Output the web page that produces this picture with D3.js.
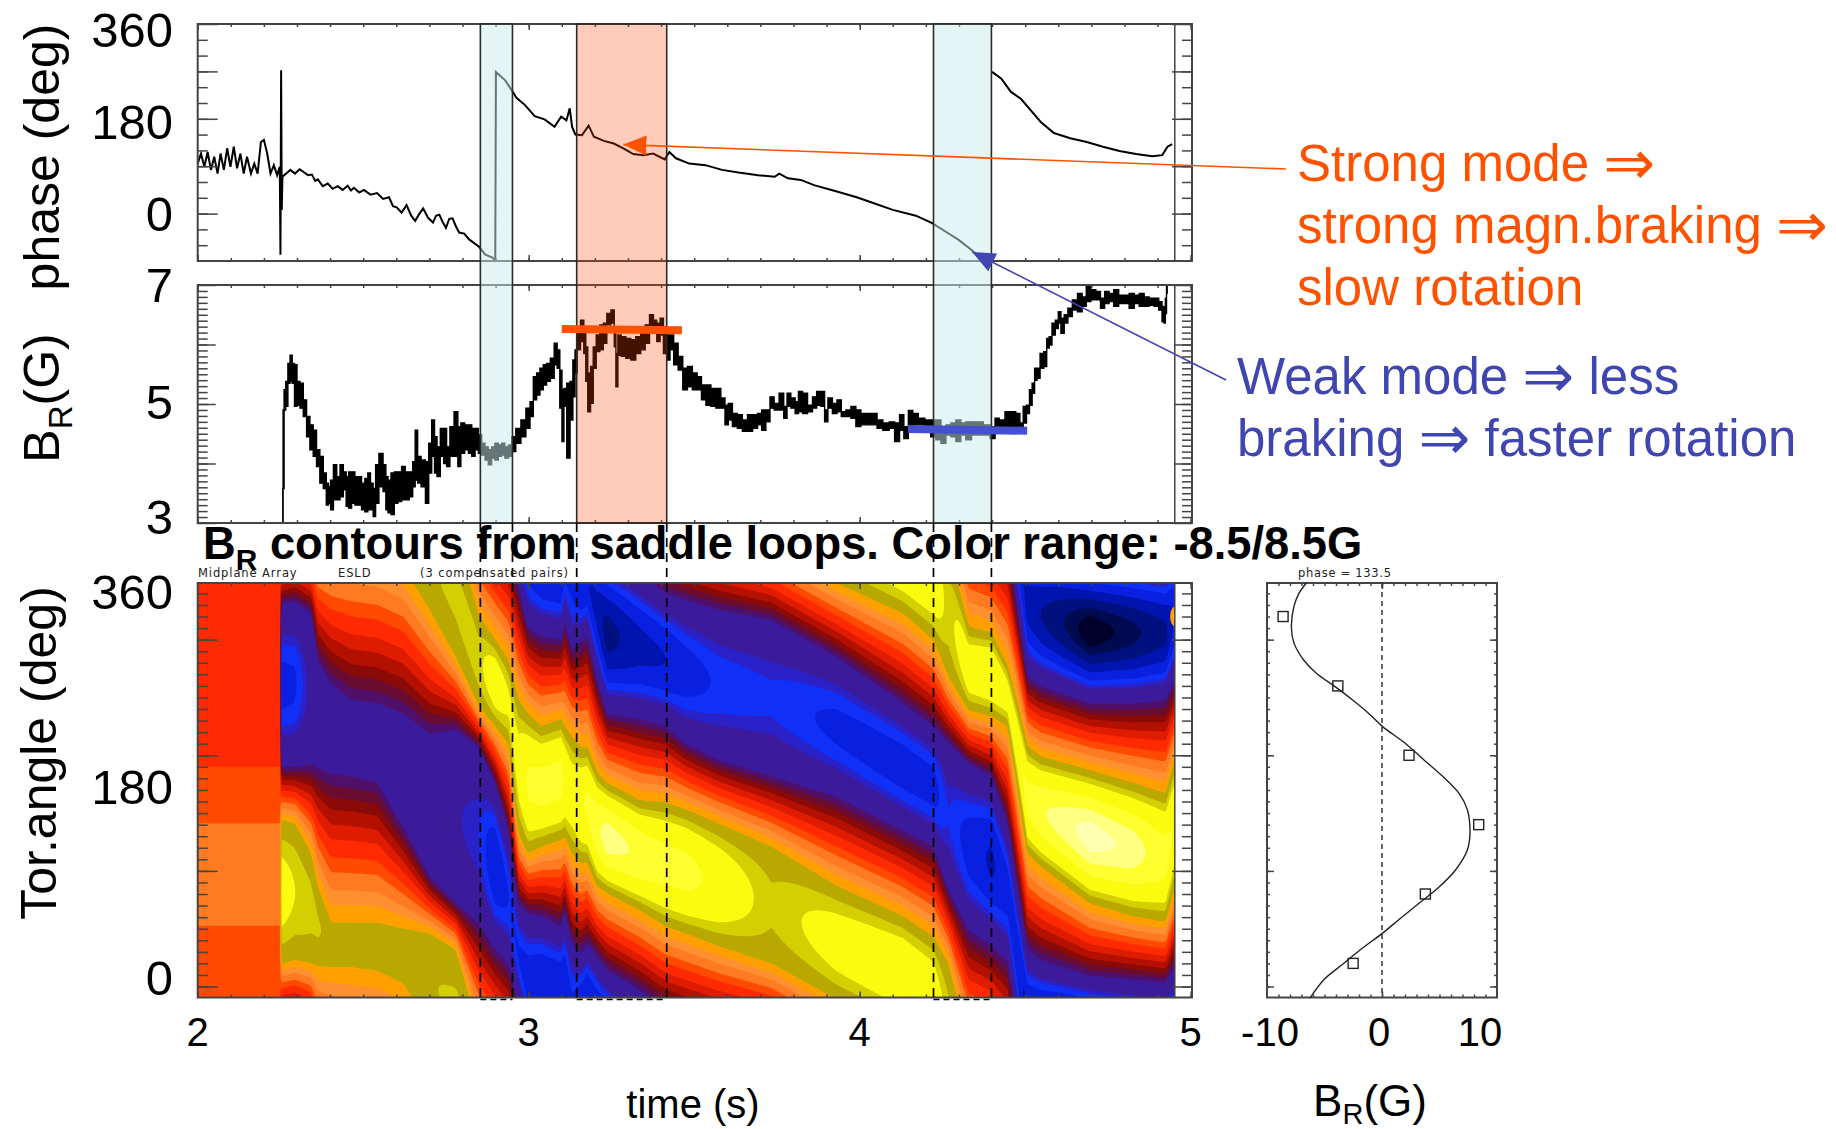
<!DOCTYPE html>
<html>
<head>
<meta charset="utf-8">
<title>BR contours from saddle loops</title>
<script src="https://cdn.jsdelivr.net/npm/d3@7"></script>
<style>
  html, body { margin: 0; padding: 0; background: #ffffff; }
  svg { display: block; }
  text { font-family: "Liberation Sans", "DejaVu Sans", sans-serif; }
</style>
</head>
<body>
<svg id="chart" width="1836" height="1129"></svg>
<script>
// phase of the mode (deg), null = wrap-around gap in the trace
var phaseTime = [2.000,2.010,2.020,2.030,2.040,2.050,2.060,2.069,2.079,2.089,2.099,2.109,2.119,2.129,2.139,2.149,2.161,2.171,2.181,2.191,2.200,2.210,2.220,2.230,2.240,2.248,2.250,2.252,2.254,2.256,2.280,2.294,2.308,2.320,2.333,2.345,2.355,2.363,2.378,2.393,2.408,2.423,2.438,2.453,2.463,2.472,2.488,2.502,2.522,2.542,2.560,2.578,2.590,2.601,2.616,2.631,2.645,2.657,2.668,2.681,2.696,2.711,2.720,2.730,2.740,2.750,2.760,2.770,2.780,2.790,2.805,2.820,2.850,2.869,2.889,2.899,2.901,2.929,2.949,2.963,2.989,3.018,3.048,3.078,3.098,3.114,3.124,3.131,3.141,3.161,3.181,3.197,3.227,3.257,3.286,3.316,3.346,3.376,3.411,3.425,3.445,3.485,3.534,3.584,3.634,3.693,3.743,3.757,3.783,3.822,3.862,3.931,3.991,4.041,4.100,4.170,4.219,4.259,4.299,4.338,4.372,4.385,4.400,4.428,4.457,4.487,4.517,4.547,4.587,4.636,4.686,4.735,4.785,4.835,4.884,4.914,4.930,4.944];
var phaseDeg = [95,114,89,117,83,108,76,114,83,124,89,127,86,114,76,108,76,95,76,136,140,114,76,92,73,89,-78,272,7,70,83,76,84,79,73,74,62,65,52,57,47,52,45,53,44,49,40,45,36,39,28,31,14,12,2,16,-4,-14,-2,10,-8,-17,-4,-2,-16,-27,-10,-9,-24,-36,-38,-49,-63,-78,-83,-88,269,253,234,220,206,185,179,165,184,177,200,165,150,149,167,146,138,133,124,113,111,114,103,117,105,95,92,83,78,73,70,76,67,64,54,42,31,20,7,-4,-18,-34,-50,-69,-88,null,269,256,231,218,196,174,153,143,136,127,119,113,109,111,127,132];

// BR amplitude (G), upper and lower edge of the noisy trace
var brTime = [2.257,2.259,2.263,2.269,2.276,2.282,2.289,2.296,2.304,2.314,2.324,2.334,2.344,2.354,2.364,2.374,2.385,2.392,2.398,2.405,2.415,2.425,2.435,2.445,2.452,2.460,2.470,2.480,2.490,2.500,2.510,2.518,2.526,2.534,2.541,2.554,2.566,2.571,2.579,2.589,2.599,2.611,2.621,2.633,2.646,2.653,2.661,2.668,2.682,2.694,2.702,2.712,2.719,2.727,2.739,2.747,2.757,2.767,2.782,2.790,2.800,2.813,2.823,2.833,2.843,2.853,2.863,2.873,2.883,2.893,2.903,2.913,2.923,2.933,2.945,2.953,2.969,2.984,2.999,3.009,3.019,3.029,3.039,3.049,3.059,3.072,3.082,3.090,3.098,3.103,3.110,3.120,3.130,3.137,3.143,3.150,3.163,3.170,3.175,3.182,3.192,3.198,3.210,3.220,3.231,3.241,3.256,3.261,3.266,3.273,3.286,3.301,3.316,3.331,3.346,3.358,3.372,3.382,3.392,3.402,3.412,3.422,3.432,3.444,3.459,3.472,3.487,3.502,3.516,3.528,3.543,3.558,3.573,3.588,3.598,3.608,3.623,3.638,3.653,3.669,3.684,3.699,3.709,3.724,3.734,3.749,3.764,3.777,3.784,3.800,3.810,3.820,3.835,3.850,3.865,3.875,3.890,3.898,3.910,3.925,3.938,3.951,3.966,3.981,3.996,4.011,4.026,4.046,4.059,4.081,4.097,4.114,4.127,4.140,4.154,4.167,4.187,4.207,4.222,4.238,4.253,4.268,4.283,4.298,4.313,4.328,4.348,4.363,4.384,4.404,4.414,4.429,4.449,4.464,4.479,4.489,4.499,4.509,4.517,4.525,4.532,4.540,4.550,4.562,4.568,4.577,4.585,4.597,4.603,4.613,4.623,4.635,4.650,4.666,4.678,4.691,4.706,4.721,4.734,4.746,4.761,4.774,4.791,4.806,4.822,4.837,4.852,4.867,4.882,4.897,4.910,4.917,4.922,4.925,4.929];
var brHigh = [3.58,4.90,5.24,5.38,5.68,5.82,5.68,5.66,5.38,5.35,5.07,4.79,4.65,4.56,4.23,4.12,3.84,3.67,3.61,3.72,3.98,3.78,3.98,3.86,3.78,3.86,3.86,3.78,3.78,3.67,3.75,3.84,3.67,3.58,3.98,4.17,3.98,3.78,3.72,3.84,3.86,3.86,3.95,3.86,3.86,4.03,4.56,4.12,4.06,4.03,4.34,4.73,4.45,4.28,4.59,4.59,4.28,4.62,4.87,4.62,4.68,4.65,4.65,4.59,4.59,4.48,4.34,4.28,4.23,4.28,4.34,4.31,4.34,4.28,4.31,4.45,4.59,4.73,4.93,5.04,5.46,5.52,5.60,5.66,5.68,5.77,6.02,5.91,5.57,5.24,5.26,5.35,5.38,5.74,5.91,6.30,6.41,6.24,5.96,5.52,5.63,5.96,6.16,6.33,6.36,6.52,6.58,6.30,5.85,6.16,6.13,6.10,6.08,6.13,6.19,6.33,6.50,6.41,6.36,6.44,6.30,6.16,6.16,6.02,5.80,5.60,5.63,5.52,5.46,5.32,5.32,5.26,5.26,5.10,4.98,5.01,4.84,4.82,4.73,4.82,4.82,4.84,4.90,4.90,5.12,5.01,5.18,4.96,5.18,5.10,5.04,5.21,5.18,4.98,5.12,5.21,5.21,4.90,5.10,5.01,5.07,4.87,4.90,4.96,4.90,4.84,4.84,4.84,4.73,4.68,4.70,4.68,4.82,4.62,4.89,4.84,4.76,4.73,4.73,4.73,4.62,4.65,4.68,4.73,4.68,4.70,4.70,4.70,4.65,4.62,4.76,4.73,4.87,4.87,4.84,4.68,4.96,4.98,5.24,5.35,5.60,5.60,5.85,5.88,6.10,6.13,6.36,6.41,6.55,6.44,6.50,6.61,6.75,6.86,6.80,6.98,6.92,6.89,6.78,6.89,6.86,6.92,6.83,6.83,6.86,6.83,6.86,6.80,6.78,6.78,6.72,6.64,6.61,6.78,7.00];
var brLow = [3.01,3.58,4.90,4.96,5.35,5.38,5.35,4.96,4.98,4.93,4.79,4.45,4.23,4.12,3.95,3.67,3.58,3.30,3.33,3.22,3.39,3.39,3.44,3.56,3.28,3.25,3.33,3.30,3.30,3.22,3.19,3.22,3.22,3.11,3.33,3.61,3.53,3.22,3.17,3.14,3.33,3.36,3.39,3.39,3.44,3.61,3.72,3.67,3.61,3.33,3.84,4.12,3.84,3.78,4.12,4.00,3.95,4.12,4.12,3.95,4.17,4.23,4.17,4.12,4.23,4.17,4.14,4.06,3.98,4.09,4.06,4.12,4.14,4.09,4.12,4.20,4.34,4.45,4.59,4.79,5.07,5.15,5.24,5.32,5.38,5.43,5.66,5.60,4.93,4.37,4.96,4.09,4.73,5.12,5.52,5.91,6.05,5.85,5.38,4.87,5.01,5.60,5.88,5.91,6.02,6.33,6.36,5.96,5.29,5.82,5.80,5.77,5.74,5.85,5.91,6.02,6.19,6.19,6.05,6.16,5.85,5.74,5.91,5.66,5.57,5.24,5.29,5.24,5.24,5.07,4.98,4.96,4.93,4.93,4.65,4.73,4.62,4.59,4.54,4.54,4.59,4.65,4.56,4.70,4.93,4.90,4.90,4.76,4.96,4.93,4.84,4.87,4.84,4.87,4.93,4.98,4.96,4.70,4.93,4.84,4.87,4.79,4.79,4.76,4.62,4.65,4.65,4.65,4.59,4.56,4.59,4.37,4.56,4.42,4.56,4.65,4.65,4.62,4.45,4.40,4.34,4.48,4.45,4.37,4.48,4.40,4.48,4.48,4.48,4.42,4.56,4.62,4.59,4.62,4.62,4.59,4.68,4.84,4.98,5.18,5.40,5.43,5.60,5.63,5.94,5.99,6.16,6.27,6.36,6.19,6.36,6.47,6.58,6.55,6.64,6.72,6.75,6.75,6.61,6.69,6.72,6.64,6.69,6.69,6.61,6.69,6.64,6.64,6.66,6.64,6.58,6.38,6.36,6.52,6.86];

// contour map, read per time column: where the purple and the olive band start and stop (unwrapped deg),
// and how deep / high the field goes in the middle of each band
var heatTime = [2.256,2.294,2.343,2.363,2.403,2.463,2.542,2.621,2.701,2.780,2.850,2.899,2.939,2.969,2.998,3.038,3.098,3.108,3.131,3.157,3.177,3.207,3.237,3.336,3.415,3.475,3.574,3.733,3.931,4.130,4.223,4.268,4.329,4.398,4.447,4.477,4.507,4.547,4.696,4.825,4.924,4.952];
var purpleTop = [331,333,323,282,262,248,245,236,219,222,207,176,135,72,63,61,52,66,37,29,37,26,14,-3,-20,-26,-34,-43,-75,-115,-135,-149,-167,-178,-219,-274,-328,-337,-351,-354,-357,-343];
var purpleBottom = [190,190,192,189,184,182,177,138,95,72,55,32,20,-14,-49,-57,-60,-43,-69,-62,-57,-95,-124,-129,-135,-150,-164,-178,-196,-225,-239,-276,-311,-325,-337,-395,-452,-460,-475,-475,-472,-455];
var oliveTop = [144,141,115,86,55,55,55,50,46,32,-40,-60,-78,-112,-124,-135,-129,-135,-144,-153,-153,-175,-184,-199,-201,-207,-219,-239,-273,-299,-317,-340,-409,-414,-443,-476,-512,-521,-533,-544,-553,-524];
var oliveBottom = [20,23,20,18,17,17,14,3,-34,-75,-118,-135,-150,-227,-245,-239,-233,-230,-245,-253,-253,-273,-279,-294,-308,-314,-325,-340,-371,-397,-420,-452,-481,-486,-495,-548,-605,-616,-648,-659,-664,-633];
var troughValue = [-6.8,-6.6,-4.5,-4.2,-4,-4,-4.4,-4.6,-4.8,-4.8,-5.6,-7.6,-6.4,-6.5,-7,-7.5,-7.5,-7,-6.5,-7.2,-7.5,-8,-9,-8,-7.6,-7,-6.2,-5.8,-6.7,-7,-6.9,-5.6,-7,-7.8,-7,-7.2,-8,-8.6,-10.3,-9.6,-8.8,-7.4];
var peakValue = [5.6,5.0,4.5,4.3,3.9,3.9,3.9,3.9,4.1,4.4,4.7,6.0,5.2,5.6,6.8,7,7,6.4,5.8,6.4,6.8,7.4,8,7.4,7,7,6.2,4.4,5.7,6.2,6,4.6,6,6.4,5.8,6.2,7,7.5,8.5,8,7,6.4];

// before the mode appears (t < 2.25) the map is nearly flat
var earlyAngle = [349,250,200,150,115,60,30,0,-10];
var earlyValue = [0.4,0.4,0.7,1.2,1.6,1.4,1.0,0.9,0.9];

var contourLevels = [-99,-9.9,-9.4,-8.6,-7.6,-6.4,-5.6,-5.0,-2,-1.6,-1.2,-0.8,-0.3,0.2,0.8,1.3,1.9,2.4,3,4.2,5.0,6.6,7.6,8.2];
var contourColors = ['#00002a','#000a50','#00107e','#0014b0','#0a20e0','#1030f8','#2a22c8','#3b1a9c','#50106a','#6a0c30','#8a0a08','#b41000','#e01c00','#ff2a00','#ff4a00','#ff7a20','#ff9030','#ffa000','#b8a800','#d4cf00','#fbfb10','#ffff30','#ffff80','#ffffb0'];

// the small hot spot at the right edge of the map
var hotSpotTime = [4.947];
var hotSpotAngle = [320];

// profile at phase = 133.5
var sensorAngle = [320,260,200,140,80,20];
var sensorValue = [-8.6,-3.84,2.35,8.41,3.77,-2.51];
var fitAngle = [349,340,329,311,297,282,271,260,248,236,225,210,196,182,167,153,133,118,101,86,72,58,46,32,19,6,-10];
var fitValue = [-6.58,-7.22,-7.65,-7.88,-7.65,-6.78,-5.71,-4.17,-2.58,-1.13,0.03,2.06,3.65,5.25,6.70,7.42,7.65,7.42,6.41,4.96,3.22,1.48,0.03,-1.86,-3.45,-5.04,-6.26];

// highlighted time windows and the two level bars
var weakWindows = [[2.854,2.951],[4.223,4.398]];
var strongWindows = [[3.145,3.417]];
var strongBarTime = [3.10,3.463];
var strongBarLevel = [6.26,6.24];
var weakBarTime = [4.146,4.506];
var weakBarLevel = [4.58,4.55];

var svg = d3.select('#chart');
var ORANGE = '#ff5200';
var BLUE = '#4046b0';
var FRAME = '#444444';

var x = d3.scaleLinear().domain([2, 5.004]).range([197.7, 1192]);
var yPhase = d3.scaleLinear().domain([-90, 360]).range([261, 24]);
var yBr = d3.scaleLinear().domain([3, 7]).range([523, 285]);
var yAngle = d3.scaleLinear().domain([-9.5, 349]).range([997.5, 583]);
var xProfile = d3.scaleLinear().domain([-10, 10]).range([1267, 1497]);

function range(start, stop, step) {
  return d3.range(Math.round((stop - start) / step) + 1).map(function(i) {
    return +(start + i * step).toFixed(3);
  });
}

function drawAxis(generator, scale, transform, values, size) {
  svg.append('g')
    .attr('transform', transform)
    .call(generator(scale).tickValues(values).tickSize(size).tickFormat(''))
    .call(function(g) {
      g.select('.domain').remove();
      g.selectAll('line').attr('stroke', FRAME).attr('stroke-width', 1.5);
    });
}

function drawFrame(xs, ys, xMinor, xMajor, yMinor, yMajor, xSizes, ySizes) {
  var left = xs.range()[0];
  var right = xs.range()[1];
  var top = ys.range()[1];
  var bottom = ys.range()[0];

  // inward ticks: axisRight on the left edge, axisLeft on the right edge and so on
  drawAxis(d3.axisRight, ys, 'translate(' + left + ',0)', yMinor, ySizes[0]);
  drawAxis(d3.axisRight, ys, 'translate(' + left + ',0)', yMajor, ySizes[1]);
  drawAxis(d3.axisLeft, ys, 'translate(' + right + ',0)', yMinor, ySizes[0]);
  drawAxis(d3.axisLeft, ys, 'translate(' + right + ',0)', yMajor, ySizes[1]);
  drawAxis(d3.axisTop, xs, 'translate(0,' + bottom + ')', xMinor, xSizes[0]);
  drawAxis(d3.axisTop, xs, 'translate(0,' + bottom + ')', xMajor, xSizes[1]);
  drawAxis(d3.axisBottom, xs, 'translate(0,' + top + ')', xMinor, xSizes[0]);
  drawAxis(d3.axisBottom, xs, 'translate(0,' + top + ')', xMajor, xSizes[1]);

  svg.append('rect')
    .attr('x', left)
    .attr('y', top)
    .attr('width', right - left)
    .attr('height', bottom - top)
    .style('fill', 'none')
    .style('stroke', FRAME)
    .style('stroke-width', 2);
}

var defs = svg.append('defs');

function clip(id, x0, y0, x1, y1) {
  defs.append('clipPath')
    .attr('id', id)
    .append('rect')
    .attr('x', x0)
    .attr('y', y0)
    .attr('width', x1 - x0)
    .attr('height', y1 - y0);
}

clip('clip-phase', x(2), yPhase(360), x(5.004), yPhase(-90));
clip('clip-br', x(2), yBr(7), x(5.004), yBr(3));
clip('clip-heat', x(2), yAngle(349), x(4.952), yAngle(-9.5));

function marker(id, color, w, h) {
  defs.append('marker')
    .attr('id', id)
    .attr('markerUnits', 'userSpaceOnUse')
    .attr('markerWidth', w)
    .attr('markerHeight', h)
    .attr('refX', w)
    .attr('refY', h / 2)
    .attr('orient', 'auto')
    .append('path')
    .attr('d', 'M0,0L' + w + ',' + (h / 2) + 'L0,' + h + 'Z')
    .style('fill', color);
}

marker('head-orange', ORANGE, 23, 20);
marker('head-blue', BLUE, 23, 20);

// contour map
var nx = 490;
var ny = 210;
var gridTime = d3.scaleLinear().domain([0, nx]).range([1.99, 4.965]);
var gridAngle = d3.scaleLinear().domain([0, ny]).range([352, -12]);

function column(values) {
  return d3.scaleLinear().domain(heatTime).range(values).clamp(true);
}

var purpleT = column(purpleTop);
var purpleB = column(purpleBottom);
var oliveT = column(oliveTop);
var oliveB = column(oliveBottom);
var troughV = column(troughValue);
var peakV = column(peakValue);
var earlyV = d3.scaleLinear().domain(earlyAngle).range(earlyValue).clamp(true);
var PURPLE_EDGE = -2;
var OLIVE_EDGE = 3;

function fieldValue(t, angle) {
  if (t < 2.25) {
    return earlyV(angle);
  }
  var a = purpleT(t);
  var b = purpleB(t);
  var c = oliveT(t);
  var d = oliveB(t);
  var p = angle;
  while (p > a) p -= 360;
  while (p <= a - 360) p += 360;
  var s;
  if (p >= b) {
    s = (2 * p - a - b) / (a - b);
    return PURPLE_EDGE + (troughV(t) - PURPLE_EDGE) * (1 - s * s);
  }
  if (p >= c) {
    return PURPLE_EDGE + (OLIVE_EDGE - PURPLE_EDGE) * (b - p) / (b - c);
  }
  if (p >= d) {
    s = (2 * p - c - d) / (c - d);
    return OLIVE_EDGE + (peakV(t) - OLIVE_EDGE) * (1 - s * s);
  }
  return OLIVE_EDGE - (OLIVE_EDGE - PURPLE_EDGE) * (d - p) / (d - a + 360);
}

var grid = new Float64Array(nx * ny);
for (var j = 0; j < ny; j++) {
  for (var i = 0; i < nx; i++) {
    grid[i + j * nx] = fieldValue(gridTime(i + .5), gridAngle(j + .5));
  }
}

var gridPath = d3.geoPath(d3.geoTransform({
  point: function(px, py) {
    this.stream.point(x(gridTime(px)), yAngle(gridAngle(py)));
  }
}));

var heat = svg.append('g').attr('clip-path', 'url(#clip-heat)');

heat.append('rect')
  .attr('x', x(2))
  .attr('y', yAngle(349))
  .attr('width', x(4.952) - x(2))
  .attr('height', yAngle(-9.5) - yAngle(349))
  .style('fill', contourColors[0]);

heat.selectAll('.band')
  .data(d3.contours().size([nx, ny]).smooth(true).thresholds(contourLevels)(grid))
  .enter()
  .append('path')
  .attr('class', 'band')
  .attr('d', gridPath)
  .style('fill', function(d, i) {
    return contourColors[i];
  });

hotSpotTime.forEach(function(t, i) {
  heat.append('ellipse')
    .attr('cx', x(t) + 2)
    .attr('cy', yAngle(hotSpotAngle[i]))
    .attr('rx', 5)
    .attr('ry', 10)
    .style('fill', '#ffa000');
  heat.append('ellipse')
    .attr('cx', x(t) + 3)
    .attr('cy', yAngle(hotSpotAngle[i]))
    .attr('rx', 2.5)
    .attr('ry', 6)
    .style('fill', '#ffff60');
});

// traces
svg.append('path')
  .datum(phaseTime.map(function(t, i) {
    return [t, phaseDeg[i]];
  }))
  .attr('clip-path', 'url(#clip-phase)')
  .attr('d', d3.line()
    .defined(function(d) {
      return d[1] !== null;
    })
    .x(function(d) {
      return x(d[0]);
    })
    .y(function(d) {
      return yPhase(d[1]);
    }))
  .style('fill', 'none')
  .style('stroke', '#000000')
  .style('stroke-width', 2);

svg.append('path')
  .datum(brTime.map(function(t, i) {
    return [t, brHigh[i], brLow[i]];
  }))
  .attr('clip-path', 'url(#clip-br)')
  .attr('d', d3.area()
    .curve(d3.curveStep)
    .x(function(d) {
      return x(d[0]);
    })
    .y0(function(d) {
      return yBr(d[2]);
    })
    .y1(function(d) {
      return yBr(d[1]);
    }))
  .style('fill', '#000000')
  .style('stroke', '#000000')
  .style('stroke-width', 1.4);

[yPhase, yBr, yAngle].forEach(function(ys) {
  svg.append('line')
    .attr('x1', x(4.952))
    .attr('x2', x(4.952))
    .attr('y1', ys.range()[0])
    .attr('y2', ys.range()[1])
    .style('stroke', FRAME)
    .style('stroke-width', 1.5);
});

drawFrame(x, yPhase, range(2, 5, .1), range(2, 5, 1), range(-60, 330, 30), range(0, 360, 90), [3, 6], [10, 20]);
drawFrame(x, yBr, range(2, 5, .1), range(2, 5, 1), range(3.1, 6.9, .1), range(3, 7, 1), [3, 6], [10, 18]);
drawFrame(x, yAngle, range(2, 5, .1), range(2, 5, 1), range(0, 340, 10), range(0, 300, 100), [3, 6], [10, 20]);

// highlighted windows
function drawWindows(windows, fill, opacity) {
  svg.selectAll(null)
    .data(windows)
    .enter()
    .append('rect')
    .attr('x', function(d) {
      return x(d[0]);
    })
    .attr('y', yPhase(360))
    .attr('width', function(d) {
      return x(d[1]) - x(d[0]);
    })
    .attr('height', yBr(3) - yPhase(360))
    .style('fill', fill)
    .style('fill-opacity', opacity)
    .style('stroke', '#2a2a2a')
    .style('stroke-width', 1.6);

  windows.forEach(function(w) {
    w.forEach(function(t) {
      svg.append('line')
        .attr('x1', x(t))
        .attr('x2', x(t))
        .attr('y1', yBr(3))
        .attr('y2', yAngle(-9.5) + 2)
        .style('stroke', '#000000')
        .style('stroke-width', 1.7)
        .style('stroke-dasharray', '9,6');
    });
    svg.append('line')
      .attr('x1', x(w[0]))
      .attr('x2', x(w[1]))
      .attr('y1', yAngle(-9.5) + 2)
      .attr('y2', yAngle(-9.5) + 2)
      .style('stroke', '#000000')
      .style('stroke-width', 1.7)
      .style('stroke-dasharray', '6,4');
  });
}

drawWindows(weakWindows, '#c8ebeb', .5);
drawWindows(strongWindows, '#ff4000', .27);

function drawBar(times, levels, color) {
  svg.append('line')
    .attr('x1', x(times[0]))
    .attr('x2', x(times[1]))
    .attr('y1', yBr(levels[0]))
    .attr('y2', yBr(levels[1]))
    .style('stroke', color)
    .style('stroke-width', 8);
}

drawBar(strongBarTime, strongBarLevel, ORANGE);
drawBar(weakBarTime, weakBarLevel, '#4450d0');

// arrows from the notes to the phase trace
svg.append('line')
  .attr('x1', 1286)
  .attr('y1', 169)
  .attr('x2', x(3.286))
  .attr('y2', yPhase(131))
  .attr('marker-end', 'url(#head-orange)')
  .style('stroke', ORANGE)
  .style('stroke-width', 1.6);

svg.append('line')
  .attr('x1', 1226)
  .attr('y1', 380)
  .attr('x2', x(4.34))
  .attr('y2', yPhase(-73))
  .attr('marker-end', 'url(#head-blue)')
  .style('stroke', BLUE)
  .style('stroke-width', 1.6);

// profile panel
var yProfile = yAngle;
var xProfileTicks = range(-9, 9, 1);
drawFrame(xProfile, yProfile, xProfileTicks, [0], range(0, 340, 10), range(0, 300, 100), [3, 6], [3, 7]);

svg.append('line')
  .attr('x1', xProfile(0))
  .attr('x2', xProfile(0))
  .attr('y1', yProfile(349))
  .attr('y2', yProfile(-9.5))
  .style('stroke', '#333333')
  .style('stroke-width', 1.5)
  .style('stroke-dasharray', '5,4');

svg.append('path')
  .datum(fitAngle.map(function(a, i) {
    return [fitValue[i], a];
  }))
  .attr('d', d3.line()
    .curve(d3.curveCatmullRom)
    .x(function(d) {
      return xProfile(d[0]);
    })
    .y(function(d) {
      return yProfile(d[1]);
    }))
  .style('fill', 'none')
  .style('stroke', '#222222')
  .style('stroke-width', 1.4);

svg.selectAll('.sensor')
  .data(sensorAngle)
  .enter()
  .append('rect')
  .attr('class', 'sensor')
  .attr('x', function(d, i) {
    return xProfile(sensorValue[i]) - 5;
  })
  .attr('y', function(d) {
    return yProfile(d) - 5;
  })
  .attr('width', 10)
  .attr('height', 10)
  .style('fill', 'none')
  .style('stroke', '#222222')
  .style('stroke-width', 1.4);

// text
function label(px, py, str, size, anchor, color) {
  return svg.append('text')
    .attr('x', px)
    .attr('y', py)
    .style('font-size', size + 'px')
    .style('text-anchor', anchor || 'start')
    .style('fill', color || '#000000')
    .text(str);
}

function subLabel(sel, size, rest, drop) {
  var dy = size * (drop || .25);
  sel.append('tspan')
    .attr('dy', dy)
    .style('font-size', (size * .66) + 'px')
    .text('R');
  sel.append('tspan')
    .attr('dy', -dy)
    .text(rest);
}

// the note text has a wider arrow glyph than the font's default size gives
function note(px, py, str, color) {
  var sel = label(px, py, '', 51, 'start', color);
  str.split('⇒').forEach(function(part, i) {
    if (i > 0) {
      sel.append('tspan')
        .attr('dy', 3)
        .style('font-size', '62px')
        .text('⇒');
      sel.append('tspan')
        .attr('dy', -3)
        .text(part);
    } else {
      sel.append('tspan').text(part);
    }
  });
}

[['360', 47], ['180', 139], ['0', 231], ['7', 302], ['5', 419], ['3', 534], ['360', 609], ['180', 804], ['0', 995]].forEach(function(d) {
  label(173, d[1], d[0], 49, 'end');
});

label(0, 0, 'phase (deg)', 50, 'middle').attr('transform', 'translate(59,157) rotate(-90)');
subLabel(label(0, 0, 'B', 50, 'middle').attr('transform', 'translate(59,398) rotate(-90)'), 50, '(G)');
label(0, 0, 'Tor.angle (deg)', 50, 'middle').attr('transform', 'translate(56,753) rotate(-90)');

[2, 3, 4, 5].forEach(function(t) {
  label(x(t), 1046, String(t), 40, 'middle');
});
label(693, 1118, 'time (s)', 40, 'middle');

[[-10, 3], [0, -3], [10, -17]].forEach(function(d) {
  label(xProfile(d[0]) + d[1], 1046, String(d[0]), 40, 'middle');
});
subLabel(label(1370, 1116, 'B', 44, 'middle'), 44, '(G)', .18);

var title = label(203, 559, 'B', 45.3).style('font-weight', 'bold');
subLabel(title, 45.3, ' contours from saddle loops. Color range: -8.5/8.5G');

[['Midplane Array', 198], ['ESLD', 338], ['(3 compensated pairs)', 420]].forEach(function(d) {
  label(d[1], 577, d[0], 11.5).style('font-family', '"DejaVu Sans"').style('letter-spacing', '.9px').style('fill', '#222222');
});
label(1298, 577, 'phase =  133.5', 11.5).style('font-family', '"DejaVu Sans"').style('letter-spacing', '.7px').style('fill', '#222222');

[['Strong mode ⇒', 181], ['strong magn.braking ⇒', 243], ['slow rotation', 305]].forEach(function(d) {
  note(1297, d[1], d[0], ORANGE);
});
[['Weak mode ⇒ less', 394], ['braking ⇒ faster rotation', 456]].forEach(function(d) {
  note(1237, d[1], d[0], BLUE);
});
</script>
</body>
</html>
